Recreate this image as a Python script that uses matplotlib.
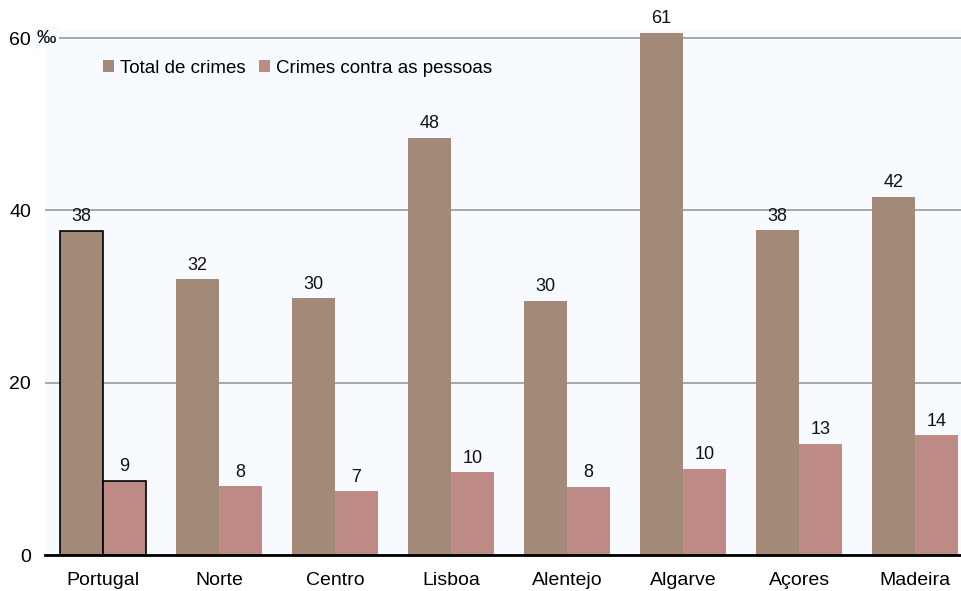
import numpy as np
from matplotlib import pyplot as plt
from matplotlib.patches import Patch

# dados (por mil habitantes)
regioes = ["Portugal", "Norte", "Centro", "Lisboa", "Alentejo", "Algarve", "Açores", "Madeira"]
total_crimes = [37.6, 32.0, 29.8, 48.4, 29.5, 60.6, 37.7, 41.6]
crimes_pessoas = [8.6, 8.0, 7.4, 9.6, 7.9, 10.0, 12.9, 13.9]
rotulos_total = ["38", "32", "30", "48", "30", "61", "38", "42"]
rotulos_pessoas = ["9", "8", "7", "10", "8", "10", "13", "14"]
y_ticks = [0, 20, 40, 60]

COR_TOTAL = "#a38a78"
COR_PESSOAS = "#bd8a85"
COR_FUNDO = "#f7fbff"

plt.rcParams['font.family'] = ['Liberation Sans', 'DejaVu Sans']

fig = plt.figure(figsize=(9.62, 5.91), dpi=100)
ax = fig.add_axes([45 / 962, 36 / 591, 917 / 962, 525 / 591])
ax.set_facecolor(COR_FUNDO)

x = np.arange(len(regioes))
w = 0.371

# contorno preto só para Portugal
bordas = ["black"] + ["none"] * (len(regioes) - 1)
b1 = ax.bar(x - w / 2, total_crimes, w, color=COR_TOTAL, edgecolor=bordas, linewidth=1.2, zorder=3)
b2 = ax.bar(x + w / 2, crimes_pessoas, w, color=COR_PESSOAS, edgecolor=bordas, linewidth=1.2, zorder=3)

for barras, rotulos in ((b1, rotulos_total), (b2, rotulos_pessoas)):
    for barra, rot in zip(barras, rotulos):
        ax.annotate(rot, (barra.get_x() + barra.get_width() / 2, barra.get_height()),
                    xytext=(0, 4), textcoords="offset points", ha="center", va="bottom",
                    fontsize=13, color="#111111")

ax.set_xlim(-0.5, 7.405)
ax.set_ylim(0, 60.93)
ax.set_xticks(x)
ax.set_xticklabels(regioes, fontsize=14)
ax.set_yticks(y_ticks)
ax.set_yticklabels([str(v) for v in y_ticks], fontsize=14)
ax.tick_params(axis="x", length=0, pad=12)
ax.tick_params(axis="y", length=0, pad=10)
ax.grid(axis="y", color="#999999", linewidth=1.2, zorder=0)

for lado in ("top", "right", "left"):
    ax.spines[lado].set_visible(False)
ax.spines["bottom"].set_linewidth(2)
ax.spines["bottom"].set_color("black")
ax.spines["bottom"].set_zorder(4)

# unidade junto ao 60
ax.text(-0.57, 60, "‰", fontsize=14, ha="left", va="center", clip_on=False,
        bbox=dict(facecolor=COR_FUNDO, edgecolor="none", pad=2), zorder=5)

handles = [Patch(facecolor=COR_TOTAL, edgecolor="none", label="Total de crimes"),
           Patch(facecolor=COR_PESSOAS, edgecolor="none", label="Crimes contra as pessoas")]
ax.legend(handles=handles, loc="upper left", bbox_to_anchor=(0.045, 0.975), ncol=2, frameon=False,
          fontsize=13.5, handlelength=0.6, handleheight=0.6, handletextpad=0.3,
          columnspacing=0.7)

plt.savefig("out.png", dpi=100)
plt.close()
